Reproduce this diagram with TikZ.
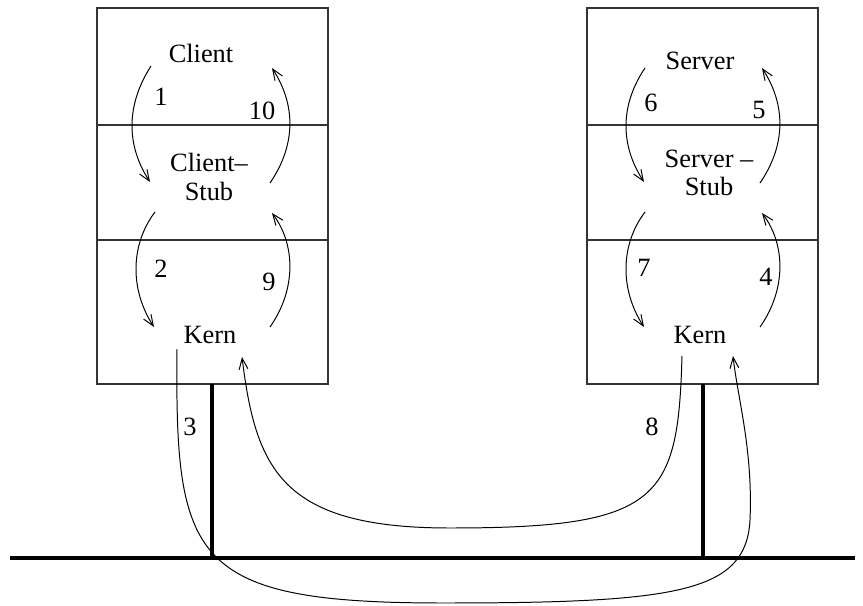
\documentclass[tikz,border=0pt]{standalone}
\usepackage{fontspec}
\setmainfont{Liberation Serif}
\usetikzlibrary{arrows.meta}
\tikzset{
  layer/.style={draw=black!80, line width=0.5pt},
  wire/.style={line width=1.4pt},
  flow/.style={line width=0.45pt, -{Straight Barb[length=5pt,width=4pt]}},
  stepnum/.style={inner sep=1pt},
}

\begin{document}
\begin{tikzpicture}[x=0.455pt, y=-0.455pt, font=\fontsize{12}{13}\selectfont]
  \useasboundingbox (0,0) rectangle (863,606);

  % client host
  \draw[layer] (97,8) rectangle (328,384);
  \draw[layer] (97,125) -- (328,125);
  \draw[layer] (97,240) -- (328,240);
  % server host
  \draw[layer] (587,8) rectangle (818,384);
  \draw[layer] (587,125) -- (818,125);
  \draw[layer] (587,240) -- (818,240);

  % layer names
  \node (client) at (201,53) {Client};
  \node[align=center] (cstub) at (209,177) {Client--\\Stub};
  \node (lkern) at (210,335) {Kern};
  \node (server) at (700,61) {Server};
  \node[align=center] (sstub) at (709,173) {Server --\\Stub};
  \node (rkern) at (700,335) {Kern};

  % network
  \coordinate (ltap) at (212,384);
  \coordinate (rtap) at (703,384);
  \coordinate (lbus) at (212,558);
  \coordinate (rbus) at (703,558);
  \coordinate (busw) at (10,558);
  \coordinate (buse) at (855,558);
  \draw[wire] (busw) -- (buse);
  \draw[wire] (ltap) -- (lbus);
  \draw[wire] (rtap) -- (rbus);

  % client side steps
  \draw[flow] (151,66) .. controls (126,105) and (126,145) .. (150,182);
  \draw[flow] (155,212) .. controls (130,245) and (130,290) .. (154,327);
  \draw[flow] (270,327) .. controls (296,290) and (296,245) .. (272,213);
  \draw[flow] (270,183) .. controls (296,145) and (296,105) .. (272,68);
  \node[stepnum] at (161,97) {1};
  \node[stepnum] at (161,269) {2};
  \node[stepnum] at (269,282) {9};
  \node[stepnum] at (262,111) {10};

  % server side steps
  \draw[flow] (645,68) .. controls (620,105) and (620,145) .. (644,182);
  \draw[flow] (645,212) .. controls (620,245) and (620,290) .. (644,327);
  \draw[flow] (760,327) .. controls (786,290) and (786,245) .. (762,213);
  \draw[flow] (760,183) .. controls (786,145) and (786,105) .. (762,68);
  \node[stepnum] at (651,103) {6};
  \node[stepnum] at (644,268) {7};
  \node[stepnum] at (766,277) {4};
  \node[stepnum] at (759,110) {5};

  % over the wire
  \coordinate (reqout) at (177,349);
  \coordinate (reqin) at (733,356);
  \coordinate (repout) at (682,356);
  \coordinate (repin) at (242,357);
  \draw[flow] (reqout) .. controls (175,560) and (190,603) .. (443,603)
    .. controls (680,603) and (746,592) .. (750,520)
    .. controls (753,450) and (738,400) .. (reqin);
  \draw[flow] (repout) .. controls (678,500) and (660,528) .. (450,528)
    .. controls (282,528) and (256,470) .. (repin);
  \node[stepnum] at (190,427) {3};
  \node[stepnum] at (652,427) {8};
\end{tikzpicture}
\end{document}
